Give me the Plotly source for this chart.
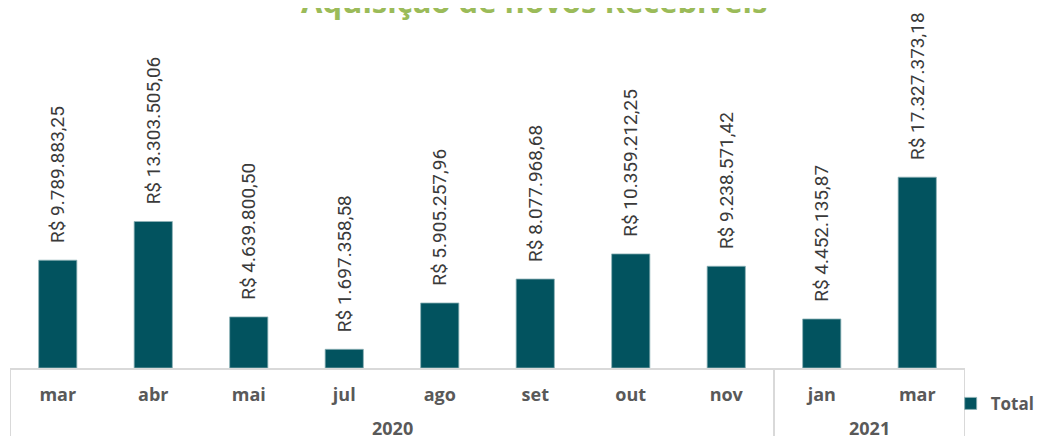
import plotly.graph_objects as go

years = ["2020", "2020", "2020", "2020", "2020", "2020", "2020", "2020", "2021", "2021"]
months = ["mar", "abr", "mai", "jul", "ago", "set", "out", "nov", "jan", "mar"]
totals = [9789883.25, 13303505.06, 4639800.50, 1697358.58, 5905257.96,
          8077968.68, 10359212.25, 9238571.42, 4452135.87, 17327373.18]

title_text = "Aquisição de novos Recebíveis"
series_name = "Total"

bar_color = "#02535F"
label_color = "#3a3a3a"
tick_color = "#595959"
grid_color = "#d9d9d9"

# unique category keys (month + year) so the two "mar" entries stay separate
keys = [f"{m} {y}" for m, y in zip(months, years)]

# year groups: first/last index for each year
groups = {}
for i, y in enumerate(years):
    groups.setdefault(y, []).append(i)

fig = go.Figure()
fig.add_trace(go.Bar(
    x=keys,
    y=totals,
    name=series_name,
    marker=dict(color=bar_color, line=dict(color="#8fb3b8", width=0.8)),
    texttemplate="\u00a0\u00a0\u00a0R$ %{y:,.2f}",
    textposition="outside",
    textangle=-90,
    constraintext="none",
    cliponaxis=False,
    textfont=dict(family="Liberation Sans Narrow, Roboto, sans-serif", size=19, color=label_color),
    showlegend=True,
))

shapes = []
annotations = [dict(text=title_text, xref="paper", yref="paper", x=0.549, y=0.988,
                    xanchor="center", yanchor="bottom", showarrow=False,
                    font=dict(family="Open Sans", size=31, color="#9BBB59", weight=700))]

bounds = set()
for y, idx in groups.items():
    lo, hi = min(idx), max(idx)
    bounds.add(lo - 0.5)
    bounds.add(hi + 0.5)
    annotations.append(dict(text=y, xref="x", yref="paper", x=(lo + hi) / 2, y=-0.172,
                            xanchor="center", yanchor="middle", showarrow=False,
                            font=dict(family="Open Sans", size=18, color=tick_color, weight=700)))
for b in sorted(bounds):
    shapes.append(dict(type="line", xref="x", yref="paper", x0=b, x1=b, y0=0, y1=-0.4,
                       line=dict(color=grid_color, width=2)))

fig.update_layout(
    width=1037, height=428,
    margin=dict(l=2, r=80, t=12, b=68, autoexpand=False),
    paper_bgcolor="white", plot_bgcolor="white",
    separators=",.",
    bargap=0.6,
    showlegend=True,
    legend=dict(x=0.985, y=-0.103, xanchor="left", yanchor="middle",
                font=dict(family="Open Sans", size=17, color=tick_color, weight=700),
                bgcolor="rgba(0,0,0,0)", borderwidth=0),
    shapes=shapes,
    annotations=annotations,
)
fig.update_xaxes(
    type="category",
    tickvals=keys, ticktext=months,
    range=[-0.5, len(keys) - 0.5],
    showline=True, linecolor=grid_color, linewidth=2,
    tickfont=dict(family="Open Sans", size=18, color=tick_color, weight=700),
    ticks="", ticklabelstandoff=9, showgrid=False, automargin=False,
)
fig.update_yaxes(range=[0, 31.6e6], visible=False, showgrid=False, zeroline=False)

fig.write_html("out.html")
